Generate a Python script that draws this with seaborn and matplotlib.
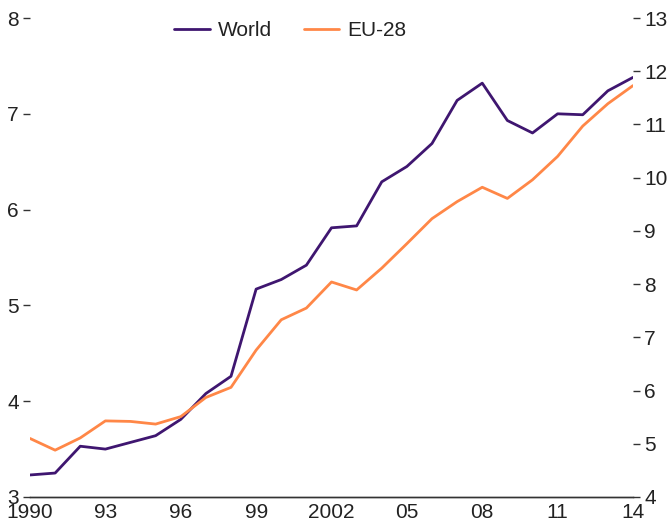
import numpy as np
import pandas as pd
import matplotlib
matplotlib.use("Agg")
import matplotlib.pyplot as plt
import seaborn as sns

years = list(range(1990, 2015))
world = [3.23, 3.25, 3.53, 3.50, 3.57, 3.64, 3.81, 4.08, 4.26, 5.17,
         5.27, 5.42, 5.81, 5.83, 6.29, 6.45, 6.69, 7.14, 7.32, 6.93,
         6.80, 7.00, 6.99, 7.24, 7.38]
eu28 = [5.10, 4.88, 5.11, 5.43, 5.42, 5.37, 5.51, 5.87, 6.06, 6.76,
        7.33, 7.55, 8.04, 7.89, 8.30, 8.76, 9.23, 9.55, 9.82, 9.61,
        9.96, 10.40, 10.97, 11.39, 11.73]
xticks = [1990, 1993, 1996, 1999, 2002, 2005, 2008, 2011, 2014]
xlabels = ["1990", "93", "96", "99", "2002", "05", "08", "11", "14"]

sns.set_style("white")
plt.rcParams['font.family'] = ['Liberation Sans', 'DejaVu Sans']

df = pd.DataFrame({"year": years, "World": world, "EU-28": eu28})

fig = plt.figure(figsize=(6.67, 5.32), dpi=100)
ax = fig.add_axes([30/667, 35/532, 603/667, 479/532])
ax2 = ax.twinx()

c_world = "#3f1670"
c_eu = "#ff8747"
sns.lineplot(data=df, x="year", y="World", ax=ax, color=c_world, linewidth=2.0, label="World", legend=False)
sns.lineplot(data=df, x="year", y="EU-28", ax=ax2, color=c_eu, linewidth=2.0, label="EU-28", legend=False)

ax.set_xlim(1990, 2014)
ax.set_ylim(3, 8)
ax2.set_ylim(4, 13)
ax.set_xticks(xticks)
ax.set_xticklabels(xlabels)
ax.set_yticks(range(3, 9))
ax2.set_yticks(range(4, 14))
ax.set_xlabel("")
ax.set_ylabel("")
ax2.set_ylabel("")

for a in (ax, ax2):
    for s in ["top", "left", "right"]:
        a.spines[s].set_visible(False)
    a.spines["bottom"].set_color("#333333")
    a.spines["bottom"].set_linewidth(1.0)

ax.tick_params(axis="x", direction="in", length=7, width=1, color="#333333",
               labelsize=15, pad=4, labelcolor="#222222")
ax.tick_params(axis="y", direction="out", length=5, width=1, color="#333333",
               labelsize=15, pad=3, labelcolor="#222222", left=True)
ax2.tick_params(axis="y", direction="out", length=5, width=1, color="#333333",
                labelsize=15, pad=3, labelcolor="#222222", right=True)

h1, l1 = ax.get_legend_handles_labels()
h2, l2 = ax2.get_legend_handles_labels()
ax.legend(h1 + h2, l1 + l2, loc="upper center", bbox_to_anchor=(0.432, 1.033),
          ncol=2, frameon=False, fontsize=15, handlelength=1.7, handletextpad=0.4,
          columnspacing=1.5, labelcolor="#222222")

fig.savefig("out.png", dpi=100)
